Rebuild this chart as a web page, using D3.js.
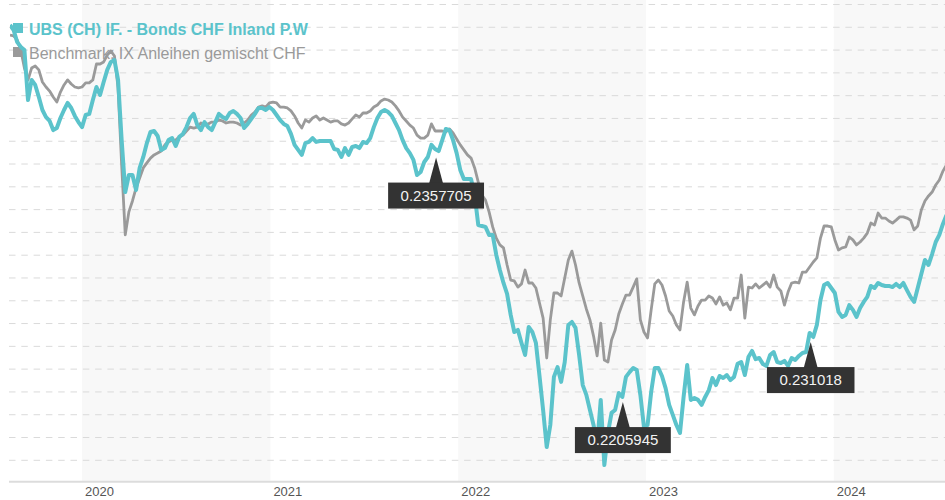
<!DOCTYPE html>
<html>
<head>
<meta charset="utf-8">
<script src="https://cdn.jsdelivr.net/npm/d3@7"></script>
<style>
  body { margin: 0; background: #fff; }
  svg { display: block; font-family: "Liberation Sans", Arial, Helvetica, sans-serif; }
</style>
</head>
<body>
<svg width="945" height="500"></svg>
<script>
// series names as shown in the legend
const seriesNames = ["UBS (CH) IF. - Bonds CHF Inland P.W", "Benchmark: IX Anleihen gemischt CHF"];

// weekly closes, performance in %, first one on firstDate
const firstDate = "2019-08-14";
const stepDays = 7;

const fundValues = [
    3.10, 2.88, 2.35, 2.14, 2.00, -0.19, 0.69, 0.47, -0.06, -0.63,
    -0.94, -1.11, -1.51, -1.42, -0.98, -0.63, -0.32, -0.54, -0.89, -1.16,
    -1.38, -0.85, -0.80, -0.19, 0.38, 0.03, 0.60, 1.13, 1.48, 1.56,
    0.69, -1.95, -4.23, -3.48, -3.48, -4.14, -3.17, -2.69, -2.08, -1.59,
    -1.55, -1.77, -2.38, -2.30, -1.95, -1.86, -2.21, -1.81, -1.68, -1.38,
    -0.98, -0.80, -1.29, -1.51, -1.16, -1.38, -1.51, -1.16, -0.80, -0.94,
    -1.02, -0.76, -0.67, -0.80, -0.98, -1.42, -1.24, -1.02, -0.80, -0.54,
    -0.54, -0.63, -0.50, -0.63, -0.85, -1.07, -1.24, -1.33, -1.68, -2.16,
    -2.38, -2.60, -2.08, -2.03, -1.86, -2.03, -1.99, -1.99, -1.99, -1.99,
    -2.34, -2.38, -2.69, -2.30, -2.60, -2.25, -2.21, -2.30, -2.03, -2.08,
    -1.86, -1.38, -0.98, -0.72, -0.63, -0.72, -0.89, -1.20, -1.51, -1.95,
    -2.30, -2.52, -2.82, -3.48, -3.35, -2.91, -2.69, -2.16, -2.34, -2.43,
    -1.95, -1.46, -1.51, -1.95, -2.52, -3.26, -3.66, -3.66, -3.66, -4.36,
    -5.68, -5.72, -5.76, -6.11, -6.11, -6.99, -7.65, -8.22, -8.70, -9.62,
    -10.37, -10.28, -10.85, -11.38, -10.15, -10.37, -10.85, -12.30, -13.79, -15.42,
    -14.45, -12.34, -11.91, -12.56, -11.69, -10.06, -9.93, -10.19, -11.38, -12.70,
    -13.13, -13.79, -14.45, -15.33, -13.35, -16.21, -14.80, -13.92, -13.79, -13.05,
    -13.22, -12.34, -12.13, -11.95, -12.04, -13.13, -14.54, -14.45, -13.00, -11.95,
    -11.95, -12.30, -12.83, -13.57, -14.01, -14.45, -14.80, -13.22, -11.82, -13.35,
    -13.27, -13.35, -13.57, -13.22, -12.92, -12.39, -12.70, -12.30, -12.39, -12.26,
    -12.48, -12.34, -11.77, -11.69, -12.26, -11.47, -11.20, -11.56, -11.51, -11.77,
    -11.86, -11.38, -11.25, -11.69, -11.73, -11.64, -11.86, -11.51, -11.60, -11.42,
    -11.29, -11.25, -10.41, -10.59, -10.06, -8.97, -8.31, -8.22, -8.44, -8.66,
    -9.49, -9.71, -9.62, -9.19, -9.40, -9.71, -9.32, -9.05, -8.83, -8.35,
    -8.44, -8.22, -8.31, -8.35, -8.35, -8.40, -8.26, -8.40, -8.22, -8.53,
    -8.83, -9.05, -8.44, -7.83, -7.21, -7.43, -6.95, -6.42, -6.11, -5.63,
    -5.24
];

const benchValues = [
    2.66, 2.62, 2.44, 2.00, 1.21, 0.69, 1.21, 1.30, 1.13, 0.60,
    0.38, 0.20, -0.06, -0.28, 0.16, 0.47, 0.69, 0.51, 0.38, 0.34,
    0.38, 0.56, 0.56, 0.69, 1.39, 1.39, 1.48, 1.78, 1.96, 1.74,
    0.34, -3.04, -6.11, -5.10, -4.62, -4.05, -3.61, -3.17, -2.95, -2.74,
    -2.60, -2.52, -2.43, -2.16, -2.03, -1.95, -1.95, -1.81, -1.73, -1.55,
    -1.38, -1.42, -1.38, -1.20, -1.29, -1.24, -1.16, -1.16, -1.07, -1.11,
    -1.20, -1.16, -1.16, -1.20, -1.29, -1.20, -1.07, -0.85, -0.72, -0.50,
    -0.45, -0.50, -0.32, -0.28, -0.32, -0.50, -0.50, -0.54, -0.67, -0.89,
    -1.20, -1.42, -1.07, -1.16, -0.98, -0.89, -1.07, -0.98, -1.07, -1.16,
    -1.11, -1.11, -1.24, -1.29, -1.20, -1.02, -0.85, -0.94, -0.76, -0.76,
    -0.67, -0.50, -0.41, -0.23, -0.15, -0.19, -0.28, -0.45, -0.67, -0.94,
    -1.11, -1.29, -1.42, -1.73, -1.86, -1.86, -1.73, -1.24, -1.55, -1.55,
    -1.55, -1.59, -1.46, -1.64, -1.90, -2.16, -2.38, -2.60, -2.74, -3.17,
    -3.79, -4.36, -4.58, -5.10, -5.76, -6.25, -6.55, -6.68, -7.43, -8.09,
    -8.13, -8.40, -8.26, -7.65, -8.22, -8.22, -8.44, -9.10, -9.76, -11.51,
    -9.84, -8.66, -8.66, -8.79, -8.00, -7.21, -6.82, -7.43, -8.22, -8.79,
    -9.36, -9.84, -10.55, -11.42, -9.98, -11.60, -11.69, -10.72, -10.28, -9.58,
    -9.14, -8.75, -8.75, -8.40, -8.04, -9.84, -10.37, -10.63, -9.40, -8.26,
    -8.09, -8.31, -8.79, -9.45, -9.67, -10.06, -10.28, -9.05, -8.18, -9.32,
    -9.62, -9.23, -8.97, -8.97, -8.79, -8.88, -9.14, -8.83, -9.19, -9.10,
    -9.40, -8.88, -8.88, -7.87, -9.76, -8.40, -8.44, -8.26, -8.44, -8.31,
    -8.18, -8.40, -7.87, -8.40, -8.57, -9.19, -8.62, -8.22, -8.18, -8.22,
    -7.74, -7.74, -7.52, -7.30, -7.12, -6.25, -5.72, -5.72, -5.76, -6.33,
    -6.77, -6.68, -6.64, -6.20, -6.33, -6.55, -6.42, -6.25, -6.03, -5.59,
    -5.68, -5.15, -5.37, -5.37, -5.50, -5.59, -5.46, -5.32, -5.32, -5.37,
    -5.46, -5.89, -5.72, -5.02, -4.62, -4.40, -4.23, -3.92, -3.70, -3.31,
    -3.04
];

const yearTicks = [2020, 2021, 2022, 2023, 2024];
const shadedYears = [2020, 2022, 2024];

// distribution flags on the fund line
const payoutDates = ["2021-11-19", "2022-11-17", "2023-11-17"];
const payoutLabels = ["0.2357705", "0.2205945", "0.231018"];

const teal = "#5bc3cb", grey = "#9a9a9a";
const parse = d3.timeParse("%Y-%m-%d");
const dates = fundValues.map((_, i) => d3.timeDay.offset(parse(firstDate), i * stepDays));

const left = 10, right = 945, axisY = 481.7;
const svg = d3.select("svg");

const x = d3.scaleTime()
    .domain([parse("2019-08-14"), parse("2024-08-04")])
    .range([left, right]);
const y = d3.scaleLinear().domain([-16, 4]).range([460.3, 4.5]);

// alternate year bands
svg.append("g").selectAll("rect")
    .data(shadedYears)
    .enter().append("rect")
    .attr("x", d => x(new Date(d, 0, 1)))
    .attr("width", d => Math.min(x(new Date(d + 1, 0, 1)), right) - x(new Date(d, 0, 1)))
    .attr("y", 0)
    .attr("height", axisY)
    .attr("fill", "#f8f8f8");

// dashed grid
svg.append("g").selectAll("line")
    .data(y.ticks(20))
    .enter().append("line")
    .attr("x1", 9).attr("x2", right)
    .attr("y1", d => y(d)).attr("y2", d => y(d))
    .attr("stroke", "#dadada")
    .attr("stroke-dasharray", "6.5,5.8");

// x axis line + year labels
svg.append("line")
    .attr("x1", 9).attr("x2", right)
    .attr("y1", axisY).attr("y2", axisY)
    .attr("stroke", "#dcdcdc").attr("stroke-width", 2);

svg.append("g").selectAll("text")
    .data(yearTicks)
    .enter().append("text")
    .attr("x", d => x(new Date(d, 0, 1)) + 3)
    .attr("y", 496)
    .style("font-size", "13px")
    .style("fill", "#555")
    .text(d => d);

// legend (sits under the lines)
const legend = svg.append("g");
legend.append("rect").attr("x", 13).attr("y", 23).attr("width", 10).attr("height", 10).attr("fill", teal);
legend.append("rect").attr("x", 13).attr("y", 47).attr("width", 10).attr("height", 10).attr("fill", grey);
legend.append("text").attr("x", 29).attr("y", 35)
    .style("font-size", "16px").style("font-weight", "bold").style("fill", teal)
    .text(seriesNames[0]);
legend.append("text").attr("x", 29).attr("y", 58.5)
    .style("font-size", "16px").style("fill", grey)
    .text(seriesNames[1]);

svg.append("clipPath").attr("id", "plot")
    .append("rect").attr("x", left).attr("y", 0).attr("width", right - left).attr("height", axisY);

const line = d3.line()
    .x((d, i) => x(dates[i]))
    .y(d => y(d));

const lines = svg.append("g").attr("clip-path", "url(#plot)");
lines.append("path")
    .attr("d", line(benchValues))
    .attr("fill", "none").attr("stroke", grey)
    .attr("stroke-width", 2.8).attr("stroke-linejoin", "round");
lines.append("path")
    .attr("d", line(fundValues))
    .attr("fill", "none").attr("stroke", teal)
    .attr("stroke-width", 4).attr("stroke-linejoin", "round");

// value of the fund line at a date
function fundAt(date) {
    const i = d3.bisector(d => d).right(dates, date);
    const t = (date - dates[i - 1]) / (dates[i] - dates[i - 1]);
    return fundValues[i - 1] + t * (fundValues[i] - fundValues[i - 1]);
}

const flags = svg.append("g");
payoutDates.forEach((ds, k) => {
    const d = parse(ds);
    const px = x(d);
    const tip = y(fundAt(d)) + 8;
    const top = tip + 25;
    const g = flags.append("g");
    g.append("path")
        .attr("d", `M${px},${tip} L${px + 7},${top + 1} L${px - 7},${top + 1} Z`)
        .attr("fill", "#333");
    const rect = g.append("rect").attr("fill", "#333");
    const txt = g.append("text")
        .attr("x", px).attr("y", top + 18)
        .attr("text-anchor", "middle")
        .style("font-size", "15px")
        .style("fill", "#f2f2f2")
        .text(payoutLabels[k]);
    const w = txt.node().getComputedTextLength() + 25;
    rect.attr("x", px - w / 2).attr("y", top).attr("width", w).attr("height", 26);
});
</script>
</body>
</html>
